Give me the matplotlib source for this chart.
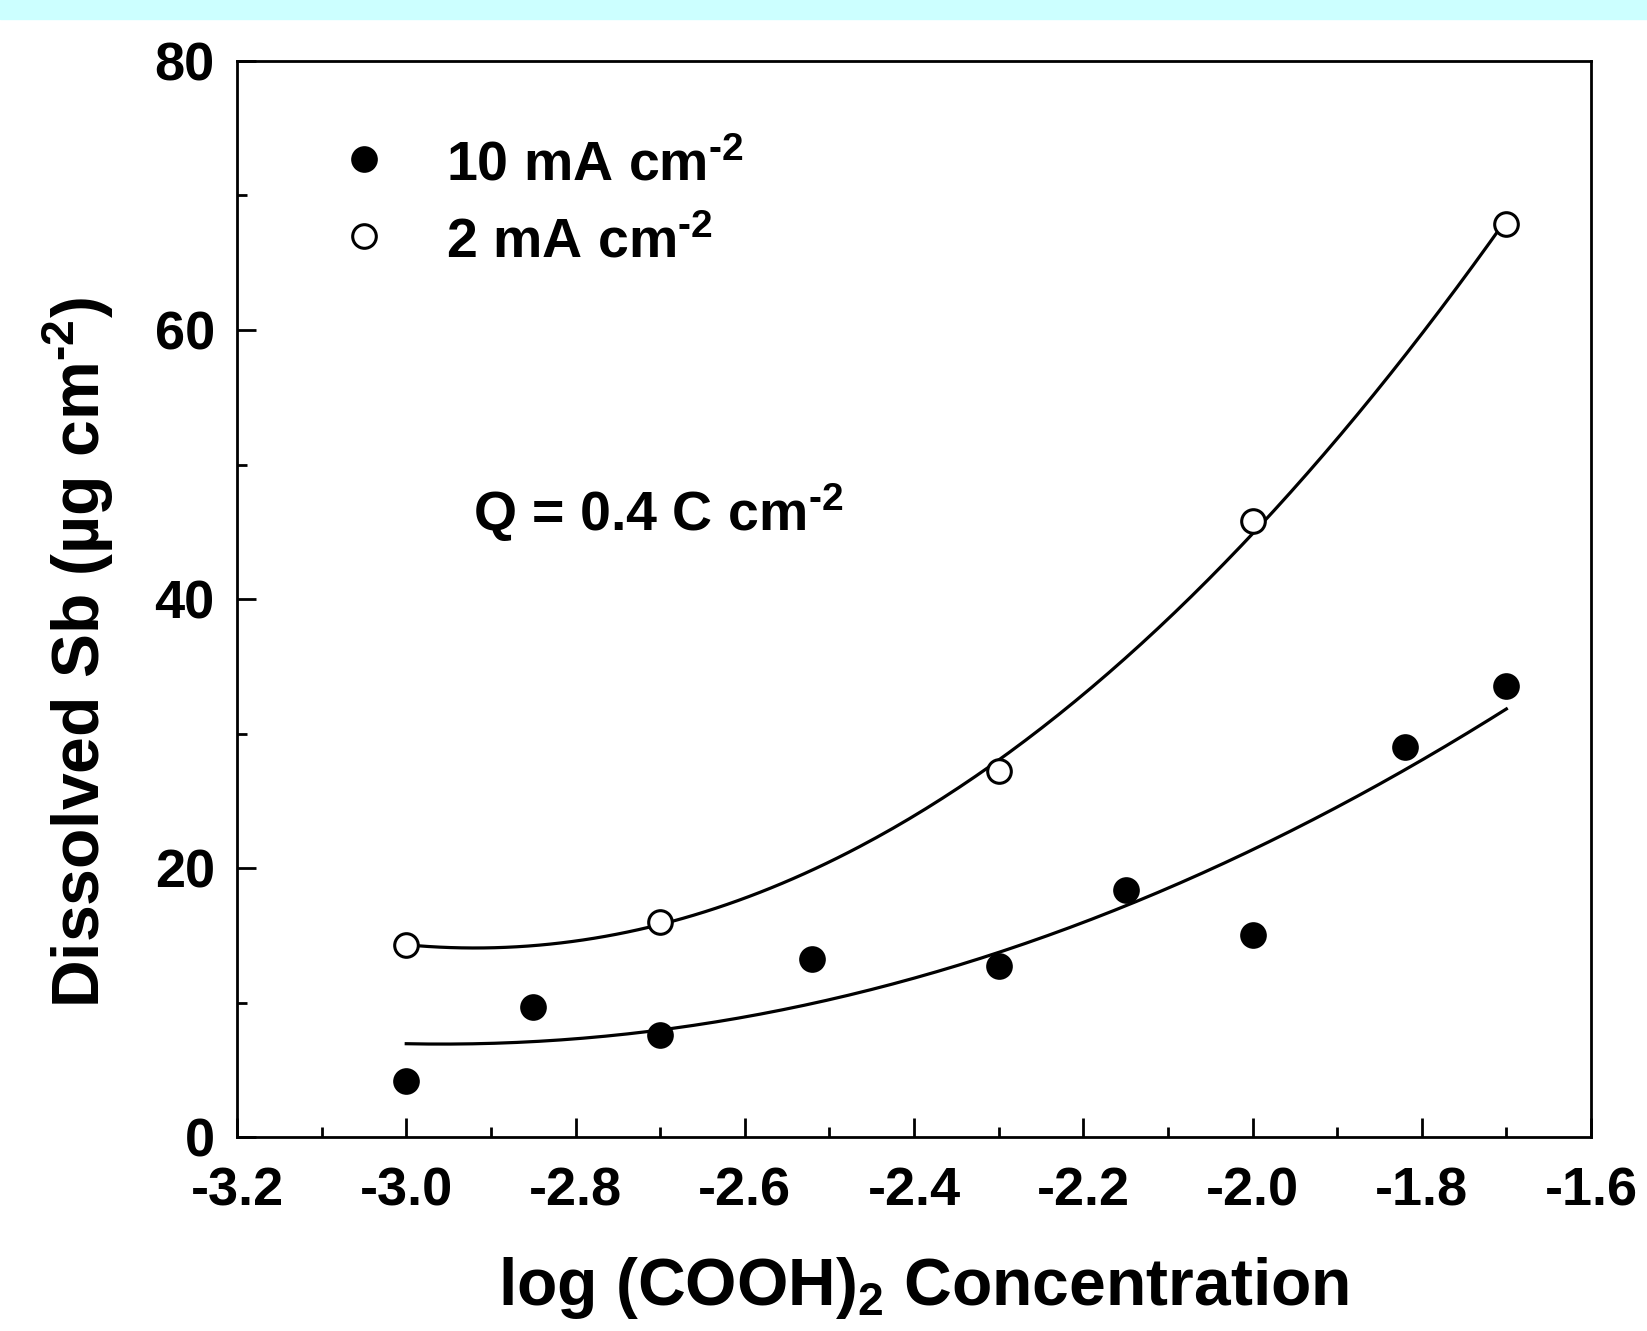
import numpy as np
import matplotlib
matplotlib.use('Agg')
import matplotlib.pyplot as plt
from matplotlib.ticker import MultipleLocator

plt.rcParams.update({
    'font.family': 'Liberation Sans',
    'font.weight': 'bold',
    'mathtext.fontset': 'custom',
    'mathtext.rm': 'Liberation Sans',
    'mathtext.bf': 'Liberation Sans:bold',
    'mathtext.it': 'Liberation Sans:italic',
})

# log (COOH)2 concentration
x_10ma = [-3.00, -2.85, -2.70, -2.52, -2.30, -2.15, -2.00, -1.82, -1.70]
y_10ma = [4.2, 9.7, 7.6, 13.2, 12.7, 18.4, 15.0, 29.0, 33.5]

x_2ma = [-3.00, -2.70, -2.30, -2.00, -1.70]
y_2ma = [14.3, 16.0, 27.2, 45.8, 67.9]

X_TICKS = [-3.2, -3.0, -2.8, -2.6, -2.4, -2.2, -2.0, -1.8, -1.6]
Y_TICKS = [0, 20, 40, 60, 80]

SUP = r'$^{\text{-}2}$'

fig = plt.figure(figsize=(16.47, 13.31), dpi=100)
# cyan band at the top
fig.patches.append(plt.Rectangle((0, 1 - 18.5 / 1331), 1, 18.5 / 1331,
                                 transform=fig.transFigure, color='#CCFFFF',
                                 zorder=0))
ax = fig.add_axes([237 / 1647, 1 - 1137 / 1331, 1354 / 1647, 1076 / 1331])

# quadratic fits through the data
for xs, ys in [(x_10ma, y_10ma), (x_2ma, y_2ma)]:
    c = np.polyfit(xs, ys, 2)
    xf = np.linspace(min(xs), max(xs), 200)
    ax.plot(xf, np.polyval(c, xf), color='black', lw=2.3, zorder=2)

ax.plot(x_10ma, y_10ma, 'o', ms=18, mfc='black', mec='black', mew=1.2, zorder=3)
ax.plot(x_2ma, y_2ma, 'o', ms=17, mfc='white', mec='black', mew=2.2, zorder=3)

# legend drawn as in the original
ax.plot([-3.05], [72.7], 'o', ms=18, mfc='black', mec='black', mew=1.2)
ax.plot([-3.05], [67.0], 'o', ms=17, mfc='white', mec='black', mew=2.2)
ax.text(-2.953, 71.15, '10 mA cm' + SUP, fontsize=40, va='baseline')
ax.text(-2.953, 65.4, '2 mA cm' + SUP, fontsize=40, va='baseline')
ax.text(-2.921, 45.08, 'Q = 0.4 C cm' + SUP, fontsize=40, va='baseline')

ax.set_xlim(-3.2, -1.6)
ax.set_ylim(0, 80)
ax.set_xticks(X_TICKS)
ax.set_xticklabels([f'{v:.1f}' for v in X_TICKS])
ax.set_yticks(Y_TICKS)
ax.xaxis.set_minor_locator(MultipleLocator(0.1))
ax.yaxis.set_minor_locator(MultipleLocator(10))
ax.tick_params(which='both', direction='in', width=2, top=False, right=False)
ax.tick_params(which='major', length=14, labelsize=39)
ax.tick_params(axis='x', which='major', pad=21)
ax.tick_params(axis='y', which='major', pad=16)
ax.tick_params(which='minor', length=7)
for s in ax.spines.values():
    s.set_linewidth(2)

ax.set_xlabel(r'log (COOH)$_{\mathbf{2}}$ Concentration', fontsize=47.5,
              fontweight='bold')
ax.xaxis.set_label_coords(0.507, -0.11)
ax.set_ylabel('Dissolved Sb (µg cm' + SUP + ')', fontsize=47.5,
              fontweight='bold')
ax.yaxis.set_label_coords(-0.089, 0.45)

fig.savefig('out.png', dpi=100)
